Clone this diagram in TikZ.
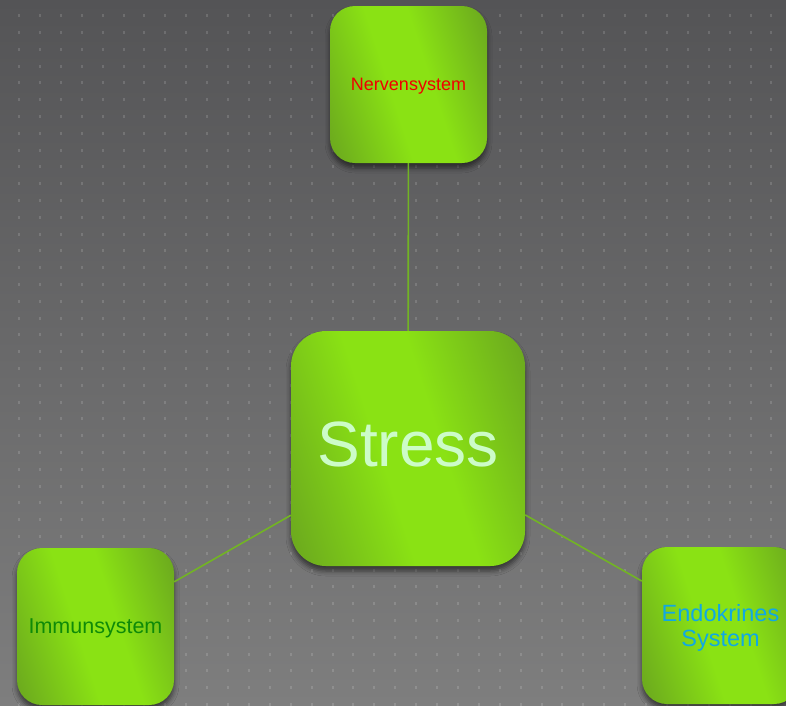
\documentclass[tikz,border=0pt]{standalone}
\usepackage{fontspec}
\setmainfont{Liberation Sans}
\usetikzlibrary{shadows.blur}

\definecolor{bgtop}{HTML}{545456}
\definecolor{bgbottom}{HTML}{7E7E7E}
\definecolor{boxdark}{HTML}{6CAA1E}
\definecolor{boxlight}{HTML}{8AE214}
\definecolor{linkgreen}{HTML}{72B424}
\definecolor{nervred}{HTML}{F00000}
\definecolor{immungreen}{HTML}{0E8A08}
\definecolor{endoblue}{HTML}{10A8E4}
\definecolor{stresspale}{HTML}{CCFCC8}

% glossy green fill of the boxes
\pgfdeclarehorizontalshading{boxglow}{100bp}{
    color(0bp)=(boxdark); color(20bp)=(boxdark); color(44bp)=(boxlight);
    color(57bp)=(boxlight); color(80bp)=(boxdark); color(100bp)=(boxdark)}

\begin{document}
\begin{tikzpicture}[x=1pt,y=1pt,
    sysbox/.style={rounded corners=25pt, minimum width=157pt, minimum height=157pt,
        inner sep=0pt, align=center, text depth=0pt, shading=boxglow, shading angle=18,
        blur shadow={shadow xshift=0pt, shadow yshift=-5pt, shadow blur radius=5pt, shadow opacity=55}},
    link/.style={draw=linkgreen, line width=1.6pt}]

    % --- Background ---
    \useasboundingbox (0,0) rectangle (786,-705);
    \clip (0,0) rectangle (786,-705);
    \shade[top color=bgtop, bottom color=bgbottom] (0,0) rectangle (786,-705);

    % dotted grid
    \foreach \i in {0,...,37}
        \foreach \j in {0,...,41}
            \fill[white, opacity=0.14] (18+20.9*\i, -14.2-16.8*\j) rectangle +(2,-3);

    % --- Boxes ---
    % centre box
    \node[sysbox, rounded corners=35pt, minimum width=234pt, minimum height=235pt, text depth=8pt,
          text=stresspale, font=\fontsize{64}{70}\selectfont] (stress) at (408,-448.5) {Stress};

    % top box
    \node[sysbox, text=nervred, font=\fontsize{18}{21}\selectfont] (nerv) at (408.5,-84.5) {Nervensystem};

    % bottom-left box
    \node[sysbox, text=immungreen, font=\fontsize{21.5}{25}\selectfont] (immun) at (95.5,-626.5) {Immunsystem};

    % bottom-right box, cut by the edge
    \node[sysbox, text=endoblue, font=\fontsize{23.5}{25.5}\selectfont] (endo) at (720.5,-625.5) {Endokrines\\System};

    % --- Links ---
    \draw[link] (nerv) -- (stress);
    \draw[link] (stress) -- (immun);
    \draw[link] (stress) -- (endo);

\end{tikzpicture}
\end{document}
